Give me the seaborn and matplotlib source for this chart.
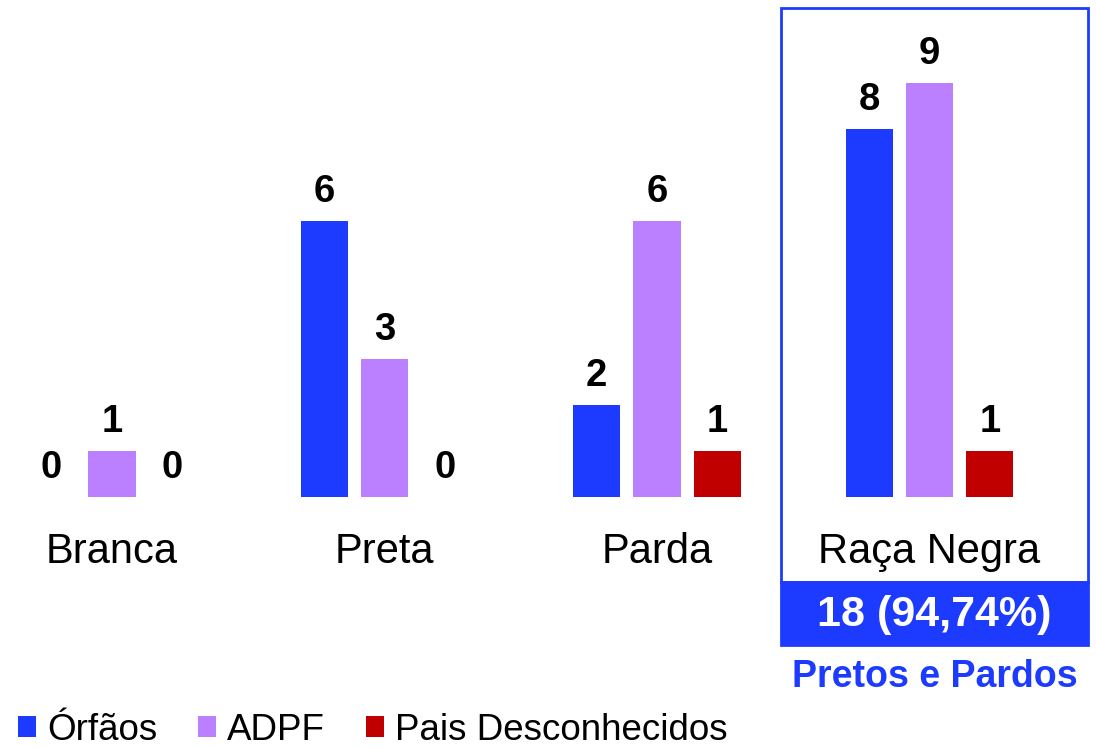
import matplotlib
matplotlib.use("Agg")
import matplotlib.pyplot as plt
from matplotlib.patches import Rectangle, Patch
import numpy as np
import pandas as pd
import seaborn as sns

# Data
categorias = ["Branca", "Preta", "Parda", "Raça Negra"]
series = ["Órfãos", "ADPF", "Pais Desconhecidos"]
orfaos = [0, 6, 2, 8]
adpf = [1, 3, 6, 9]
pais_desconhecidos = [0, 0, 1, 1]
cores = ["#1C3BFF", "#BB80FF", "#C00000"]

valores = [orfaos, adpf, pais_desconhecidos]
df = pd.DataFrame(
    [(c, s, v[i]) for s, v in zip(series, valores) for i, c in enumerate(categorias)],
    columns=["categoria", "serie", "valor"],
)

# Totals for the highlighted group (Pretos e Pardos)
total_geral = sum(orfaos[:3]) + sum(adpf[:3]) + sum(pais_desconhecidos[:3])
total_negra = orfaos[3] + adpf[3] + pais_desconhecidos[3]
pct_negra = 100 * total_negra / total_geral
texto_total = f"{total_negra} ({pct_negra:.2f}%)".replace(".", ",")

sns.set_theme(style="white")
plt.rcParams["font.family"] = ["Liberation Sans", "DejaVu Sans"]

fig = plt.figure(figsize=(10.96, 7.48), dpi=100)
ax = fig.add_axes([0, 0, 1, 1])

sns.barplot(
    data=df, x="categoria", y="valor", hue="serie",
    order=categorias, hue_order=series, palette=cores,
    width=0.666, gap=0.223, saturation=1, linewidth=0,
    legend=False, ax=ax,
)

ax.set_xlim(-0.411, 3.611)
ax.set_ylim(-5.457, 10.804)
ax.set_axis_off()

# Value labels above each bar
passo = 0.666 / 3
desloc = 19 / 46
for j, (s, v) in enumerate(zip(series, valores)):
    for i, val in enumerate(v):
        x = i + (j - 1) * passo
        ax.text(x, val + desloc, str(val), ha="center", va="baseline",
                fontsize=27.5, fontweight="bold", color="black")

# Category names under the bars
for i, c in enumerate(categorias):
    ax.text(i, -1.435, c, ha="center", va="baseline", fontsize=30, color="black")

# Highlight box around the "Raça Negra" group
azul = "#1C3BFF"
x0, x1 = 3 - 0.545, 3 + 0.582
ax.add_patch(Rectangle((x0, -1.848), x1 - x0, 10.63 + 1.848,
                       fill=False, edgecolor=azul, linewidth=2, zorder=3))
ax.add_patch(Rectangle((x0, -3.217), x1 - x0, 3.217 - 1.848,
                       facecolor=azul, edgecolor=azul, linewidth=2, zorder=3))
xc = (x0 + x1) / 2
ax.text(xc, -2.804, texto_total, ha="center", va="baseline",
        fontsize=31, fontweight="bold", color="white", zorder=4)
ax.text(xc, -4.13, "Pretos e Pardos", ha="center", va="baseline",
        fontsize=27, fontweight="bold", color=azul, zorder=4)

# Legend
handles = [Patch(facecolor=c, edgecolor="none") for c in cores]
ax.legend(handles, series, loc="lower left", bbox_to_anchor=(0.016, 0.0),
          ncol=3, frameon=False, fontsize=26.5, handlelength=0.5, handleheight=0.5,
          handletextpad=0.3, columnspacing=1.1, borderpad=0, borderaxespad=0,
          labelcolor="black")

fig.savefig("out.png", dpi=100, facecolor="white")
